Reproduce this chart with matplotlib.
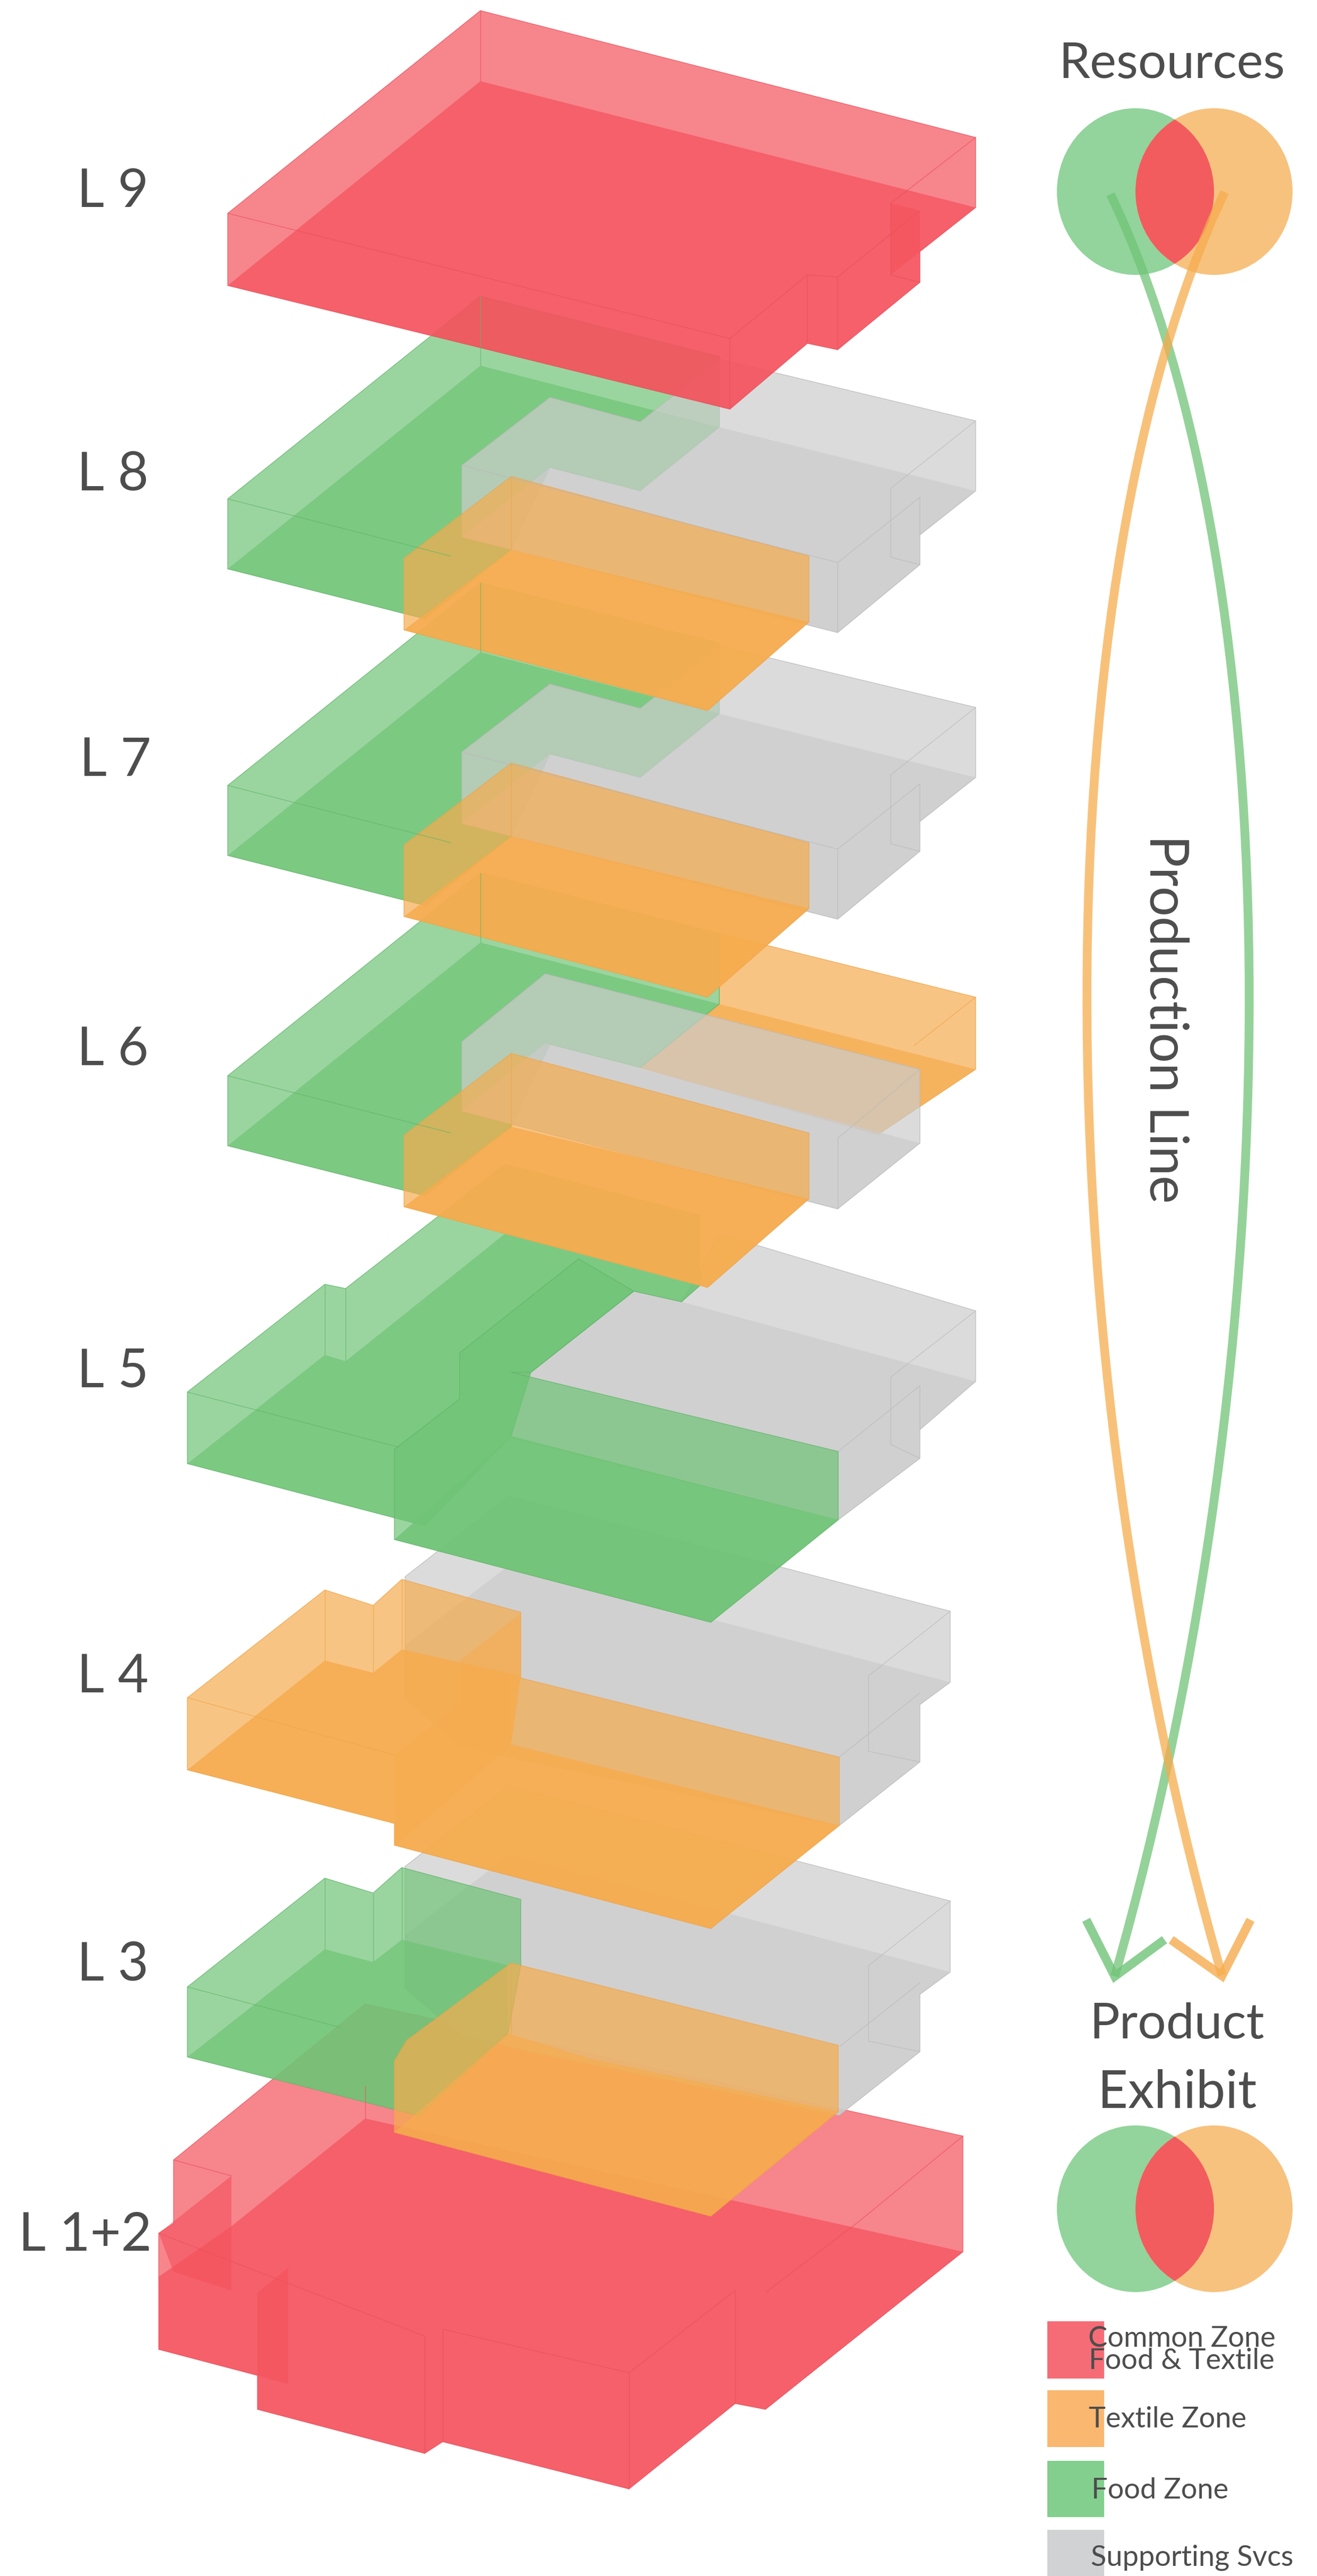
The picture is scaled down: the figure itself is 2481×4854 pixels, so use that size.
# levels of the building, exploded view, with the venn + legend on the right
import matplotlib
matplotlib.use("Agg")
import matplotlib.pyplot as plt
from matplotlib.patches import Polygon, Ellipse, PathPatch, Rectangle
from matplotlib.path import Path

plt.rcParams["font.family"] = ["Lato", "DejaVu Sans"]

# -------- colours --------
RED = "#F5515C"
GREEN = "#70C477"
ORANGE = "#F6AC4E"
GRAY = "#CCCCCC"
TEXT = "#4D4D4D"
EDGES = {RED: "#E9505C", GREEN: "#62B56B", ORANGE: "#EFA449", GRAY: "#B9B9B9"}

# -------- outlines (pixels) --------
l9_outline = [(429,402),(905,20),(1838,259),(1838,391),(1733,474),(1733,532),(1578,659),(1521,647),(1375,771),(429,538)]
l9_floor = [(429,538),(905,153),(1838,391),(1733,474),(1733,532),(1578,659),(1521,647),(1375,771)]
l9_notch = [(1678,383),(1733,397),(1733,474),(1678,518)]
l9_lines = [[(905,20),(905,153)],[(429,402),(1375,638),(1375,771)],[(1375,638),(1521,518),(1521,647)],
            [(1521,518),(1578,522),(1578,659)],[(1578,522),(1733,397)],[(1838,259),(1678,383),(1678,518),(1733,532)]]

# L8 / L7 / L6 share one plan
food_outline = [(429,940),(905,558),(1355,672),(1355,805),(1206,925),(1036,881),(963,1036),(800,1166),(429,1072)]
food_floor = [(429,1072),(905,689),(1355,805),(1206,925),(1036,881),(963,1036),(800,1166)]
food_lines = [[(905,558),(905,689)],[(429,940),(850,1048)]]

svc_outline = [(870,877),(1036,749),(1206,795),(1355,677),(1838,793),(1838,925),(1733,1008),(1733,1064),(1578,1192),(870,1012)]
svc_floor = [(870,1012),(1036,881),(1206,925),(1355,805),(1838,925),(1733,1008),(1733,1064),(1578,1192)]
svc_lines = [[(870,877),(1578,1060),(1578,1192)],[(1578,1060),(1733,937),(1733,1008)],[(1838,793),(1678,920),(1678,1050),(1733,1064)]]

tex_outline = [(761,1052),(963,898),(1524,1048),(1524,1172),(1333,1339),(761,1187)]
tex_floor = [(761,1187),(963,1036),(1524,1172),(1333,1339)]
tex_lines = [[(963,898),(963,1036)]]

# L6 has textile at the back and a smaller services block
l6_back_outline = [(1355,1759),(1838,1879),(1838,2015),(1654,2138),(1206,2012),(1355,1892)]
l6_back_floor = [(1355,1892),(1838,2015),(1654,2138),(1206,2012)]
l6_back_lines = [[(1838,1879),(1721,1971)]]
l6_svc_outline = [(870,1963),(1027,1835),(1733,2015),(1733,2154),(1578,2278),(870,2094)]
l6_svc_floor = [(870,2094),(1027,1966),(1733,2154),(1578,2278)]
l6_svc_lines = [[(1578,2145),(1578,2278)],[(1578,2145),(1733,2015)]]

# L5
l5_svc_outline = [(963,2586),(1000,2586),(1194,2433),(1284,2453),(1355,2325),(1838,2470),(1838,2603),(1733,2694),(1733,2748),(1579,2864),(963,2710)]
l5_svc_floor = [(963,2586),(1000,2586),(1194,2433),(1284,2453),(1838,2603),(1733,2694),(1733,2748),(1579,2864),(963,2710)]
l5_svc_lines = [[(1579,2735),(1733,2611),(1733,2694)],[(1838,2470),(1678,2595),(1678,2722),(1733,2748)]]
l5_food_outline = [(353,2623),(612,2420),(651,2428),(951,2194),(1318,2290),(1318,2423),(1284,2453),(1194,2433),(1000,2586),(963,2706),(800,2875),(353,2758)]
l5_food_floor = [(353,2758),(612,2553),(651,2565),(951,2325),(1318,2423),(1284,2453),(1194,2433),(1000,2586),(963,2706),(800,2875)]
l5_food_lines = [[(353,2623),(751,2727)],[(612,2420),(612,2553)],[(651,2428),(651,2565)]]
l5_front_outline = [(743,2731),(866,2636),(866,2549),(1090,2372),(1194,2433),(1000,2586),(963,2586),(1579,2735),(1579,2864),(1339,3057),(743,2901)]
l5_front_floor = [(743,2901),(963,2706),(1579,2864),(1339,3057)]

# L4
l4_svc_outline = [(763,2971),(958,2819),(1790,3036),(1790,3170),(1733,3212),(1733,3320),(1581,3440),(1000,3320),(866,3290),(763,3200)]
l4_svc_floor = [(763,3100),(958,2950),(1790,3170),(1733,3212),(1733,3320),(1581,3440),(1000,3320),(866,3290),(763,3200)]
l4_svc_lines = [[(1581,3311),(1733,3190)],[(1790,3036),(1636,3158),(1636,3300),(1733,3320)]]
l4_tex_outline = [(353,3199),(612,2996),(703,3025),(757,2976),(981,3038),(981,3162),(1581,3311),(1581,3440),(1339,3634),(743,3477),(743,3436),(353,3335)]
l4_tex_floor = [(353,3335),(612,3129),(703,3152),(757,3108),(981,3158),(963,3287),(1581,3440),(1339,3634),(743,3477),(743,3436)]
l4_tex_band = [(743,3307),(866,3212),(866,3129),(981,3040),(981,3162),(963,3162),(963,3287),(800,3430),(743,3477)]
l4_tex_lines = [[(353,3199),(743,3307)],[(612,2996),(612,3129)],[(703,3025),(703,3152)],[(757,2976),(757,3108)]]

# L3
l3_food_outline = [(353,3744),(612,3539),(703,3567),(757,3519),(981,3579),(981,3703),(957,3832),(790,3987),(353,3876)]
l3_food_floor = [(353,3876),(612,3673),(703,3697),(757,3655),(957,3703),(957,3832),(790,3987)]
l3_food_lines = [[(353,3744),(640,3820)],[(612,3539),(612,3673)],[(703,3567),(703,3697)],[(757,3519),(757,3655)]]
l3_tex_outline = [(743,3884),(766,3845),(963,3699),(1579,3854),(1579,3979),(1339,4176),(743,4018)]
l3_tex_floor = [(743,4018),(957,3832),(1115,3880),(1579,3979),(1339,4176)]
l3_tex_lines = [[(963,3699),(963,3832)]]

# L1+2
l1_outline = [(299,4208),(327,4190),(327,4070),(688,3776),(1814,4025),(1814,4243),(1442,4540),(1385,4529),(1185,4690),(834,4601),(800,4623),(485,4540),(485,4476),(299,4427)]
l1_floor = [(688,3992),(1814,4243),(1442,4540),(1385,4529),(1185,4690),(834,4601),(800,4623),(485,4540),(485,4476),(299,4427),(299,4290),(436,4195)]
l1_notch_a = [(299,4208),(436,4100),(436,4316),(327,4281)]
l1_notch_b = [(485,4320),(543,4273),(543,4493),(485,4476)]
l1_lines = [[(327,4070),(436,4100)],[(688,3930),(688,3992)],[(1814,4025),(1618,4186),(1442,4320)],[(1385,4316),(1385,4529)],
            [(1185,4471),(1185,4690)],[(1185,4471),(1385,4316)],[(834,4389),(834,4601)],[(800,4402),(800,4623)],[(834,4389),(1185,4471)],[(299,4208),(800,4402)]]

# L8 -> L7 -> L6 shift
l7_shift = 540
l6_shift = 1087
l4_to_l3_shift = 546

# -------- right hand side --------
venn_left_x = 2139
venn_right_x = 2287
venn_y = [361, 4162]
venn_rx = 148
venn_ry = 157

green_curve = [(2092,366),(2439,1092),(2439,2540),(2100,3724)]
orange_curve = [(2307,362),(1962,1092),(1962,2540),(2302,3722)]
green_head = [(2050,3625),(2100,3724),(2187,3660)]
orange_head = [(2213,3660),(2302,3723),(2352,3625)]

level_names = ["L 9", "L 8", "L 7", "L 6", "L 5", "L 4", "L 3", "L 1+2"]
level_left = [145, 145, 150, 145, 145, 145, 145, 35]
level_base = [390, 923, 1462, 2008, 2613, 3189, 3731, 4241]

legend_names = ["Common Zone", "Food & Textile", "Textile Zone", "Food Zone", "Supporting Svcs"]
legend_text_x = [2050, 2051, 2051, 2056, 2055]
legend_text_y = [4407, 4448, 4558, 4692, 4819]
swatch_colors = ["#F66C76", "#FAB76F", "#82CF8E", "#D1D2D4"]
swatch_top = [4374, 4504, 4637, 4767]
swatch_bottom = [4482, 4611, 4743, 4880]

fig = plt.figure(figsize=(24.81, 48.54), dpi=100)
ax = fig.add_axes([0, 0, 1, 1])
ax.set_xlim(0, 2481)
ax.set_ylim(4854, 0)
ax.axis("off")


def shifted(pts, dy):
    return [(x, y + dy) for x, y in pts]


def zone(outline, floor, color, lines=(), dy=0, floor_alpha=0.7):
    # one translucent shell + its floor on top, that is what gives the two tones
    ax.add_patch(Polygon(shifted(outline, dy), closed=True, fc=color, ec="none", alpha=0.7))
    ax.add_patch(Polygon(shifted(floor, dy), closed=True, fc=color, ec="none", alpha=floor_alpha))
    edge = EDGES[color]
    ax.add_patch(Polygon(shifted(outline, dy), closed=True, fc="none", ec=edge, lw=1.0, alpha=0.8))
    for ln in lines:
        xs = [p[0] for p in ln]
        ys = [p[1] + dy for p in ln]
        ax.plot(xs, ys, color=edge, lw=1.0, alpha=0.7, solid_capstyle="butt")


# bottom level first, upper levels sit over the lower ones
zone(l1_outline, l1_floor, RED, l1_lines)
ax.add_patch(Polygon(l1_notch_a, closed=True, fc=RED, ec="none", alpha=0.6))
ax.add_patch(Polygon(l1_notch_b, closed=True, fc=RED, ec="none", alpha=0.6))

# L3
zone(l4_svc_outline, l4_svc_floor, GRAY, l4_svc_lines, l4_to_l3_shift)
zone(l3_food_outline, l3_food_floor, GREEN, l3_food_lines)
zone(l3_tex_outline, l3_tex_floor, ORANGE, l3_tex_lines)

# L4
zone(l4_svc_outline, l4_svc_floor, GRAY, l4_svc_lines)
zone(l4_tex_outline, l4_tex_floor, ORANGE, l4_tex_lines, floor_alpha=0.85)
ax.add_patch(Polygon(l4_tex_band, closed=True, fc=ORANGE, ec="none", alpha=0.5))

# L5
zone(l5_svc_outline, l5_svc_floor, GRAY, l5_svc_lines)
zone(l5_food_outline, l5_food_floor, GREEN, l5_food_lines)
zone(l5_front_outline, l5_front_floor, GREEN, floor_alpha=0.85)

# L6
zone(l6_back_outline, l6_back_floor, ORANGE, l6_back_lines)
zone(food_outline, food_floor, GREEN, food_lines, l6_shift)
zone(l6_svc_outline, l6_svc_floor, GRAY, l6_svc_lines)
zone(tex_outline, tex_floor, ORANGE, tex_lines, l6_shift, floor_alpha=0.85)

# L7
zone(food_outline, food_floor, GREEN, food_lines, l7_shift)
zone(svc_outline, svc_floor, GRAY, svc_lines, l7_shift)
zone(tex_outline, tex_floor, ORANGE, tex_lines, l7_shift, floor_alpha=0.85)

# L8
zone(food_outline, food_floor, GREEN, food_lines)
zone(svc_outline, svc_floor, GRAY, svc_lines)
zone(tex_outline, tex_floor, ORANGE, tex_lines, floor_alpha=0.85)

# L9
zone(l9_outline, l9_floor, RED, l9_lines)
ax.add_patch(Polygon(l9_notch, closed=True, fc=RED, ec="none", alpha=0.6))

# venn circles
for vy in venn_y:
    ax.add_patch(Ellipse((venn_left_x, vy), venn_rx * 2, venn_ry * 2, fc="#92D49C", ec="none"))
    ax.add_patch(Ellipse((venn_right_x, vy), venn_rx * 2, venn_ry * 2, fc="#F7C27E", ec="none"))
    clip = Ellipse((venn_left_x, vy), venn_rx * 2, venn_ry * 2, transform=ax.transData)
    lens = Ellipse((venn_right_x, vy), venn_rx * 2, venn_ry * 2, fc="#F25C5E", ec="none")
    ax.add_patch(lens)
    lens.set_clip_path(clip)

# production line arrows
codes = [Path.MOVETO, Path.CURVE4, Path.CURVE4, Path.CURVE4]
ax.add_patch(PathPatch(Path(green_curve, codes), fc="none", ec=GREEN, lw=12, alpha=0.75))
ax.add_patch(PathPatch(Path(orange_curve, codes), fc="none", ec=ORANGE, lw=12, alpha=0.75))
ax.plot(*zip(*green_head), color=GREEN, lw=12, alpha=0.8, solid_joinstyle="miter")
ax.plot(*zip(*orange_head), color=ORANGE, lw=12, alpha=0.8, solid_joinstyle="miter")

# level labels
for name, left, base in zip(level_names, level_left, level_base):
    ax.text(left, base, name, fontsize=72, color=TEXT, ha="left", va="baseline")

ax.text(2208, 147, "Resources", fontsize=68, color=TEXT, ha="center", va="baseline")
ax.text(2217, 3841, "Product", fontsize=68, color=TEXT, ha="center", va="baseline")
ax.text(2218, 3971, "Exhibit", fontsize=71, color=TEXT, ha="center", va="baseline")
ax.text(2195, 1920, "Production Line", fontsize=72, color=TEXT, rotation=-90, ha="center", va="center")

# legend, the text runs over the swatches in the original
for top, bottom, col in zip(swatch_top, swatch_bottom, swatch_colors):
    ax.add_patch(Rectangle((1973, top), 107, bottom - top, fc=col, ec="none"))
for name, tx, ty in zip(legend_names, legend_text_x, legend_text_y):
    ax.text(tx, ty, name, fontsize=39, color=TEXT, va="center")

fig.savefig("out.png", dpi=100)
print("done")
